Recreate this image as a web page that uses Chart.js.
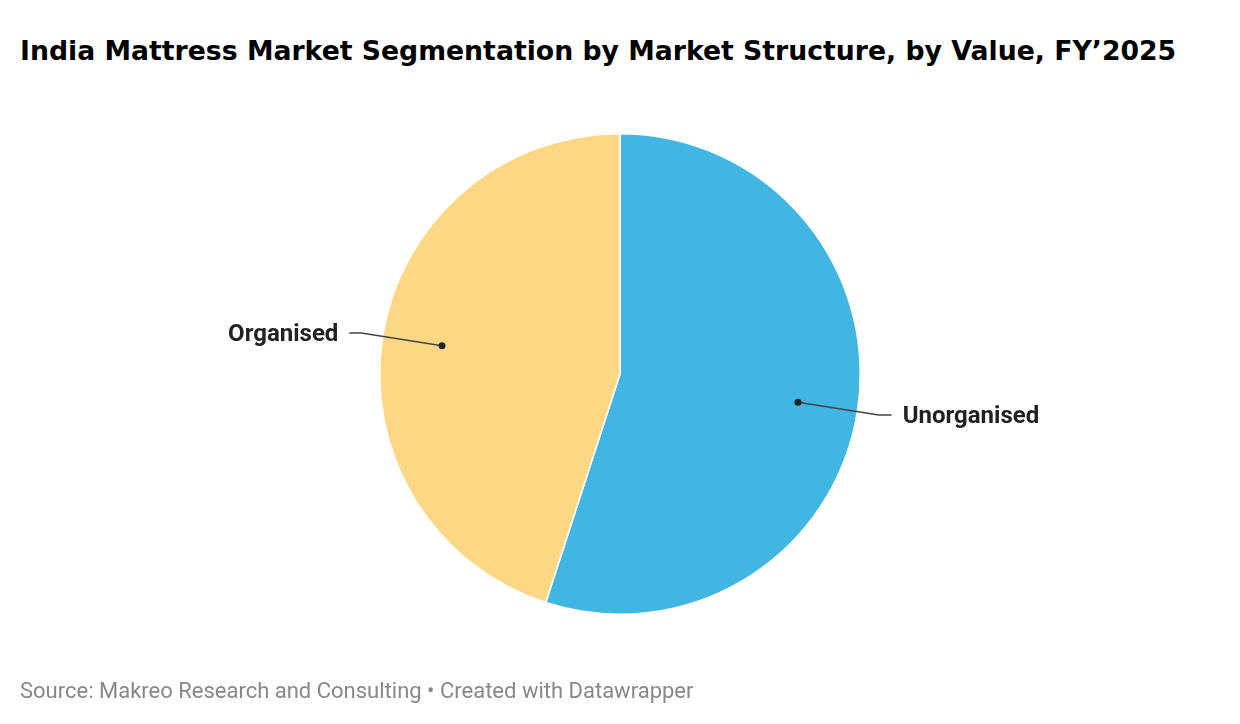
<!DOCTYPE html>
<html lang="en">
<head>
  <meta charset="UTF-8">
  <title>India Mattress Market Segmentation</title>
  <script src="https://cdn.jsdelivr.net/npm/chart.js"></script>
  <style>
    * { margin: 0; padding: 0; box-sizing: border-box; }
    body { width: 1240px; height: 724px; background: #fff; position: relative; overflow: hidden; }
    h1 {
      position: absolute; left: 20px; top: 35px;
      font-family: 'DejaVu Sans', sans-serif; font-weight: bold; font-size: 26.7px;
      color: #000; white-space: nowrap;
    }
    .source {
      position: absolute; left: 20px; top: 677.5px;
      font-family: Roboto, sans-serif; font-size: 22px; color: #888;
      white-space: nowrap;
    }
    .wrap { position: absolute; left: 0; top: 0; width: 1240px; height: 724px; }
  </style>
</head>
<body>
  <h1>India Mattress Market Segmentation by Market Structure, by Value, FY’2025</h1>
  <div class="wrap"><canvas id="pieChart"></canvas></div>
  <div class="source">Source: Makreo Research and Consulting • Created with Datawrapper</div>

  <script>
    const labels = ['Unorganised', 'Organised'];
    const values = [55, 45];
    const colors = ['#41b6e2', '#fdd884'];

    // leader lines + outside labels
    const leaderLabels = {
      id: 'leaderLabels',
      afterDraw(chart) {
        const ctx = chart.ctx;
        const meta = chart.getDatasetMeta(0);
        meta.data.forEach((arc, i) => {
          const p = arc.getProps(['x', 'y', 'startAngle', 'endAngle', 'outerRadius'], true);
          const a = (p.startAngle + p.endAngle) / 2;
          const cos = Math.cos(a), sin = Math.sin(a);
          const dx = p.x + cos * p.outerRadius * 0.75;
          const dy = p.y + sin * p.outerRadius * 0.75;
          const ex = p.x + cos * p.outerRadius * 1.09;
          const ey = p.y + sin * p.outerRadius * 1.09;
          const right = cos >= 0;
          const hx = ex + (right ? 13 : -12);

          ctx.save();
          ctx.strokeStyle = '#444';
          ctx.lineWidth = 1.5;
          ctx.beginPath();
          ctx.moveTo(dx, dy);
          ctx.lineTo(ex, ey);
          ctx.lineTo(hx, ey);
          ctx.stroke();
          ctx.fillStyle = '#222';
          ctx.beginPath();
          ctx.arc(dx, dy, 3.5, 0, Math.PI * 2);
          ctx.fill();
          ctx.font = 'bold 24px Roboto';
          ctx.textBaseline = 'alphabetic';
          ctx.textAlign = right ? 'left' : 'right';
          ctx.fillText(labels[i], hx + (right ? 11 : -11), ey + 8);
          ctx.restore();
        });
      }
    };

    new Chart(document.getElementById('pieChart'), {
      type: 'pie',
      data: {
        labels: labels,
        datasets: [{
          data: values,
          backgroundColor: colors,
          borderColor: '#fff',
          borderWidth: 1.5
        }]
      },
      options: {
        responsive: true,
        maintainAspectRatio: false,
        animation: false,
        layout: { padding: { left: 379, right: 379, top: 133, bottom: 109 } },
        plugins: {
          legend: { display: false },
          tooltip: { enabled: false }
        }
      },
      plugins: [leaderLabels]
    });
  </script>
</body>
</html>
